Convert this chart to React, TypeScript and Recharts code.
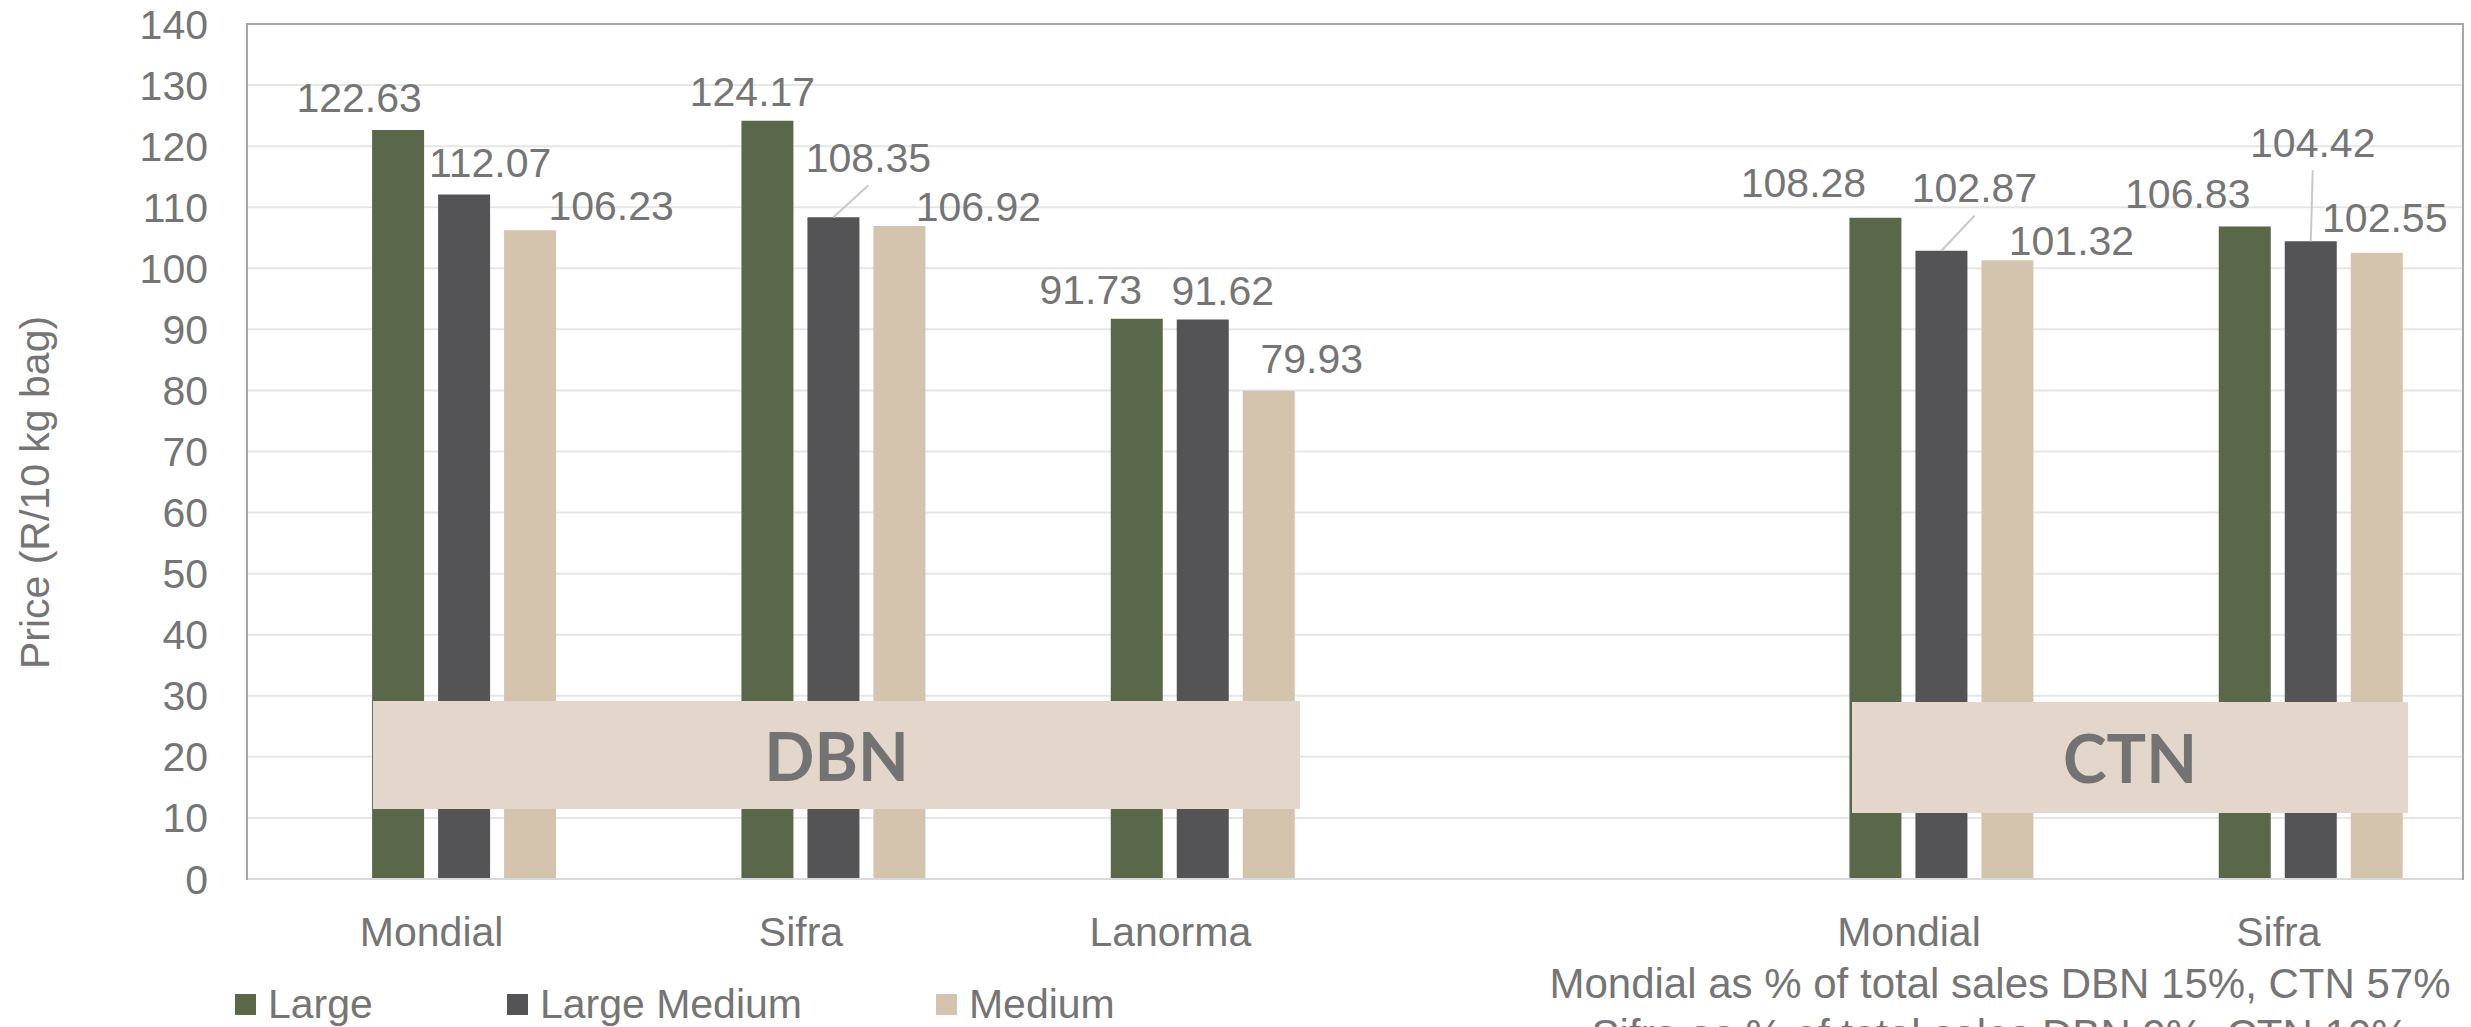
import React from "react";
import {
  BarChart,
  Bar,
  XAxis,
  YAxis,
  CartesianGrid,
  Legend,
} from "recharts";

// categories (4th slot is the empty gap between the DBN and CTN groups)
const brands = ["Mondial", "Sifra", "Lanorma", "", "Mondial", "Sifra"];
const large = [122.63, 124.17, 91.73, null, 108.28, 106.83];
const largeMedium = [112.07, 108.35, 91.62, null, 102.87, 104.42];
const medium = [106.23, 106.92, 79.93, null, 101.32, 102.55];
const yTicks = [0, 10, 20, 30, 40, 50, 60, 70, 80, 90, 100, 110, 120, 130, 140];

const data = brands.map((brand, i) => ({
  brand,
  large: large[i],
  largeMedium: largeMedium[i],
  medium: medium[i],
}));

const SERIES: Record<string, (number | null)[]> = { large, largeMedium, medium };

const COLORS = {
  large: "#5a6849",
  largeMedium: "#545456",
  medium: "#d4c3ad",
};
const TEXT = "#757575";
const W = 2471;
const H = 1027;

// hand-placed label nudges (label centre relative to bar top centre), as in the original sheet
const LABEL_NUDGE: Record<string, number[][]> = {
  large: [[-39, -32], [-15, -29], [-46, -29], [0, 0], [-72, -35], [-57, -33]],
  largeMedium: [[26, -32], [35, -60], [20, -29], [0, 0], [33, -63], [2, -99]],
  medium: [[81, -25], [79, -19], [43, -32], [0, 0], [64, -20], [8, -35]],
};
const LEADERS: Record<string, boolean[]> = {
  large: [false, false, false, false, false, false],
  largeMedium: [false, true, false, false, true, true],
  medium: [false, false, false, false, false, false],
};

const makeLabel = (key: string) => (props: any) => {
  const { x, y, width, value } = props;
  if (value == null) return null;
  // find the category by value (label indexes skip the empty slot)
  const i = SERIES[key].indexOf(Number(value));
  const [dx, dy] = LABEL_NUDGE[key][i] ?? [0, -32];
  const cx = Number(x) + Number(width) / 2;
  const top = Number(y);
  const lx = cx + dx;
  const ly = top + dy;
  return (
    <g>
      {LEADERS[key][i] && (
        <line x1={cx} y1={top} x2={lx} y2={ly + 28} stroke="#c9c9c9" strokeWidth={2} />
      )}
      <text x={lx} y={ly} dy="0.35em" textAnchor="middle" fill={TEXT} fontSize={41}>
        {Number(value).toFixed(2)}
      </text>
    </g>
  );
};

const renderLegend = (props: any) => {
  const items = (props.payload || []).filter((p: any) => p.type !== "none");
  return (
    <div style={{ display: "flex", alignItems: "center", height: 42 }}>
      {items.map((p: any) => (
        <div
          key={p.value}
          style={{ display: "flex", alignItems: "center", marginRight: 134 }}
        >
          <span
            style={{ width: 21, height: 21, background: p.color, marginRight: 12 }}
          />
          <span style={{ fontSize: 41, color: TEXT, lineHeight: "42px" }}>{p.value}</span>
        </div>
      ))}
    </div>
  );
};

const boxStyle: React.CSSProperties = {
  position: "absolute",
  background: "#e2d7ca",
  display: "flex",
  alignItems: "center",
  justifyContent: "center",
  fontFamily: "Lato, 'Open Sans', sans-serif",
  fontWeight: 700,
  fontSize: 66,
  color: "#737373",
};

export default function App() {
  return (
    <div
      style={{
        position: "absolute",
        left: 0,
        top: 0,
        width: W,
        height: H,
        background: "#fff",
        fontFamily: "'Liberation Sans', Arial, sans-serif",
      }}
    >
      <BarChart
        width={W}
        height={H}
        data={data}
        margin={{ top: 24, right: 8, left: 0, bottom: 6 }}
        barCategoryGap="16%"
        barGap={14}
      >
        <CartesianGrid vertical={false} stroke="#e6e6e6" strokeWidth={2} />
        <XAxis
          dataKey="brand"
          interval={0}
          tickLine={false}
          tickSize={0}
          tickMargin={38}
          height={100}
          axisLine={{ stroke: "#d9d9d9", strokeWidth: 2 }}
          tick={{ fill: TEXT, fontSize: 41 }}
        />
        <YAxis
          width={247}
          domain={[0, 140]}
          ticks={yTicks}
          interval={0}
          tickLine={false}
          axisLine={false}
          tickSize={0}
          tickMargin={39}
          tick={{ fill: TEXT, fontSize: 41 }}
          label={(p: any) => {
            const vb = p.viewBox || {};
            const cy = Number(vb.y ?? 24) + Number(vb.height ?? 855) / 2 + 41;
            return (
              <text
                x={35}
                y={cy}
                transform={`rotate(-90 35 ${cy})`}
                textAnchor="middle"
                dy="0.35em"
                fill={TEXT}
                fontSize={41}
              >
                Price (R/10 kg bag)
              </text>
            );
          }}
        />
        <Legend
          verticalAlign="bottom"
          content={renderLegend}
          wrapperStyle={{ left: 235, top: 983, bottom: "auto", width: 1300, height: 42 }}
        />
        <Bar dataKey="spacer" legendType="none" isAnimationActive={false} />
        <Bar
          dataKey="large"
          name="Large"
          fill={COLORS.large}
          isAnimationActive={false}
          label={makeLabel("large")}
        />
        <Bar
          dataKey="largeMedium"
          name="Large Medium"
          fill={COLORS.largeMedium}
          isAnimationActive={false}
          label={makeLabel("largeMedium")}
        />
        <Bar
          dataKey="medium"
          name="Medium"
          fill={COLORS.medium}
          isAnimationActive={false}
          label={makeLabel("medium")}
        />
      </BarChart>

      {/* plot frame */}
      <div
        style={{
          position: "absolute",
          left: 246,
          top: 23,
          width: 2218,
          height: 857,
          boxSizing: "border-box",
          borderTop: "2px solid #a8a6a8",
          borderLeft: "2px solid #a8a6a8",
          borderRight: "2px solid #a8a6a8",
          pointerEvents: "none",
        }}
      />

      <div style={{ ...boxStyle, left: 373, top: 701, width: 927, height: 108 }}>DBN</div>
      <div style={{ ...boxStyle, left: 1852, top: 702, width: 556, height: 111 }}>CTN</div>

      <div
        style={{
          position: "absolute",
          left: 1500,
          top: 958,
          width: 1000,
          textAlign: "center",
          fontSize: 42,
          lineHeight: "51px",
          color: TEXT,
          whiteSpace: "nowrap",
        }}
      >
        <div>Mondial as % of total sales DBN 15%, CTN 57%</div>
        <div>Sifra as % of total sales DBN 9%, CTN 10%</div>
      </div>
    </div>
  );
}
